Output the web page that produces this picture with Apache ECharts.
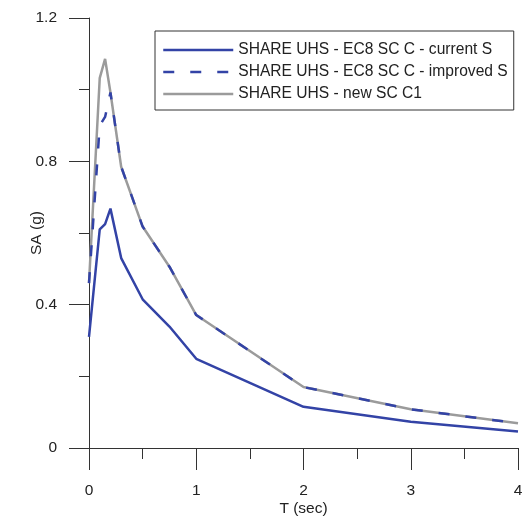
<!DOCTYPE html>
<html>
<head>
<meta charset="utf-8">
<script src="https://cdn.jsdelivr.net/npm/echarts@6/dist/echarts.min.js"></script>
<style>
  html, body { margin: 0; padding: 0; background: #fff; }
  #chart { width: 524px; height: 518px; }
</style>
</head>
<body>
<div id="chart"></div>
<script>
// periods (sec)
const periods = [0, 0.1, 0.15, 0.2, 0.3, 0.5, 0.75, 1, 2, 3, 4];
// SA values (g)
const currentS  = [0.31, 0.61, 0.625, 0.668, 0.53, 0.415, 0.339, 0.249, 0.115, 0.073, 0.046];
const improvedS = [0.46, 0.90, 0.924, 0.992, 0.785, 0.618, 0.506, 0.371, 0.170, 0.108, 0.069];
const newC1     = [0.46, 1.032, 1.086, 0.992, 0.785, 0.618, 0.506, 0.371, 0.170, 0.108, 0.069];

const seriesNames = [
    'SHARE UHS - EC8 SC C - current S',
    'SHARE UHS - EC8 SC C - improved S',
    'SHARE UHS - new SC C1'
];

const blue = '#3343a6';
const grey = '#9b9b9b';
const font = 'Liberation Sans, Arial, sans-serif';

const pairs = (ys) => periods.map((t, i) => [t, ys[i]]);

var chart = echarts.init(document.getElementById('chart'));

var option = {
    animation: false,
    grid: { left: 89, right: 6, top: 18, bottom: 70, outerBoundsMode: 'none' },
    legend: {
        orient: 'vertical',
        left: 155,
        top: 31,
        padding: [11, 6, 8, 7],
        borderColor: '#333',
        borderWidth: 1,
        itemWidth: 70,
        itemHeight: 14,
        itemGap: 6,
        itemStyle: { opacity: 0 },
        lineStyle: { width: 2.5 },
        textStyle: { fontFamily: font, fontSize: 15.6, color: '#222', lineHeight: 14 },
        data: seriesNames
    },
    xAxis: {
        type: 'value',
        min: 0,
        max: 4,
        interval: 1,
        name: 'T (sec)',
        nameLocation: 'middle',
        nameGap: 53,
        nameMoveOverlap: false,
        nameTextStyle: { fontFamily: font, fontSize: 15.5, color: '#222' },
        axisLine: { lineStyle: { color: '#333', width: 1 } },
        axisTick: { length: 22, lineStyle: { color: '#333' } },
        minorTick: { show: true, splitNumber: 2, length: 11, lineStyle: { color: '#333' } },
        axisLabel: { margin: 35, fontFamily: font, fontSize: 15.5, color: '#222' },
        splitLine: { show: false }
    },
    yAxis: {
        type: 'value',
        min: 0,
        max: 1.2,
        interval: 0.4,
        name: 'SA (g)',
        nameLocation: 'middle',
        nameGap: 44,
        nameMoveOverlap: false,
        nameTextStyle: { fontFamily: font, fontSize: 15.5, color: '#222' },
        axisLine: { show: true, lineStyle: { color: '#333', width: 1 } },
        axisTick: { show: true, length: 20, lineStyle: { color: '#333' } },
        minorTick: { show: true, splitNumber: 2, length: 10, lineStyle: { color: '#333' } },
        axisLabel: { margin: 32, fontFamily: font, fontSize: 15.5, color: '#222' },
        splitLine: { show: false }
    },
    series: [
        {
            name: seriesNames[2],
            type: 'line',
            data: pairs(newC1),
            symbol: 'none',
            lineStyle: { color: grey, width: 2.5 },
            itemStyle: { color: grey },
            z: 2
        },
        {
            name: seriesNames[1],
            type: 'line',
            data: pairs(improvedS),
            symbol: 'none',
            lineStyle: { color: blue, width: 2.5, type: [11, 16] },
            itemStyle: { color: blue },
            z: 3
        },
        {
            name: seriesNames[0],
            type: 'line',
            data: pairs(currentS),
            symbol: 'none',
            lineStyle: { color: blue, width: 2.5 },
            itemStyle: { color: blue },
            z: 4
        }
    ]
};

option && chart.setOption(option);
</script>
</body>
</html>
